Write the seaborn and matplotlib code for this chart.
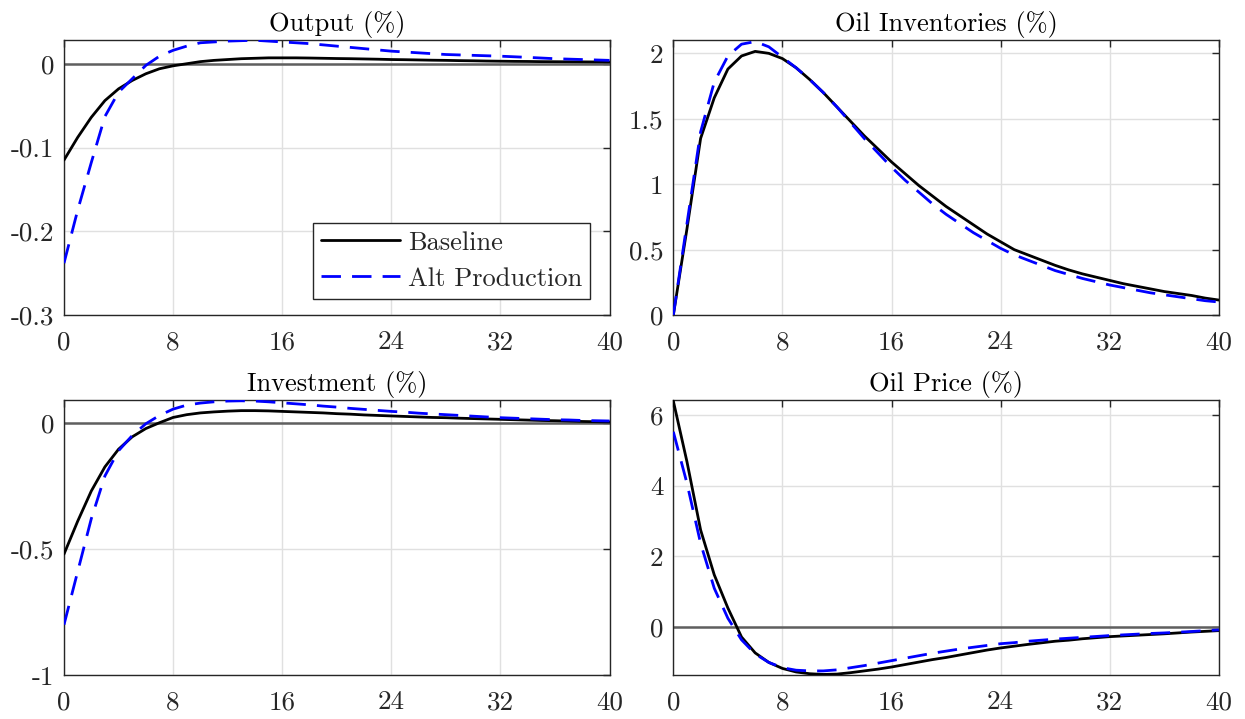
import numpy as np
import pandas as pd
import matplotlib
matplotlib.use("Agg")
import matplotlib.pyplot as plt
from matplotlib.ticker import FuncFormatter
import seaborn as sns

quarters = list(range(41))

output_base = [-0.115, -0.088, -0.064, -0.044, -0.030, -0.020, -0.012, -0.006, -0.0025, 0.0,
               0.0025, 0.004, 0.005, 0.006, 0.0065, 0.007, 0.007, 0.007, 0.0068, 0.0065,
               0.0062, 0.006, 0.0057, 0.0054, 0.005, 0.0048, 0.0045, 0.0042, 0.004, 0.0037,
               0.0035, 0.0032, 0.003, 0.0028, 0.0027, 0.0025, 0.0024, 0.0023, 0.0022, 0.0021, 0.002]
output_alt = [-0.238, -0.175, -0.118, -0.063, -0.034, -0.018, -0.002, 0.009, 0.016, 0.021,
              0.025, 0.026, 0.027, 0.0275, 0.028, 0.027, 0.026, 0.025, 0.024, 0.0225,
              0.021, 0.0195, 0.018, 0.0165, 0.015, 0.014, 0.013, 0.012, 0.011, 0.0105,
              0.010, 0.0095, 0.009, 0.0083, 0.0076, 0.0068, 0.006, 0.0055, 0.005, 0.0045, 0.004]

inv_oil_base = [0.0, 0.66, 1.35, 1.66, 1.88, 1.98, 2.015, 2.0, 1.96, 1.89,
                1.80, 1.70, 1.59, 1.48, 1.37, 1.27, 1.17, 1.08, 0.99, 0.91,
                0.83, 0.76, 0.69, 0.62, 0.56, 0.50, 0.46, 0.42, 0.38, 0.345,
                0.315, 0.29, 0.265, 0.24, 0.22, 0.20, 0.18, 0.165, 0.15, 0.13, 0.115]
inv_oil_alt = [0.0, 0.70, 1.40, 1.78, 1.98, 2.07, 2.09, 2.05, 1.97, 1.89,
               1.80, 1.70, 1.59, 1.47, 1.35, 1.24, 1.13, 1.03, 0.94, 0.85,
               0.77, 0.70, 0.63, 0.57, 0.51, 0.46, 0.42, 0.38, 0.34, 0.31,
               0.28, 0.255, 0.23, 0.21, 0.19, 0.17, 0.155, 0.14, 0.125, 0.11, 0.10]

invest_base = [-0.52, -0.39, -0.27, -0.174, -0.104, -0.055, -0.022, 0.001, 0.022, 0.033,
               0.040, 0.044, 0.047, 0.049, 0.049, 0.048, 0.046, 0.044, 0.042, 0.040,
               0.037, 0.035, 0.032, 0.030, 0.028, 0.026, 0.024, 0.022, 0.021, 0.019,
               0.0175, 0.016, 0.0145, 0.013, 0.0115, 0.010, 0.009, 0.0075, 0.006, 0.005, 0.004]
invest_alt = [-0.80, -0.59, -0.38, -0.21, -0.11, -0.05, -0.003, 0.03, 0.055, 0.071,
              0.079, 0.084, 0.087, 0.088, 0.087, 0.084, 0.080, 0.076, 0.072, 0.067,
              0.063, 0.058, 0.054, 0.050, 0.046, 0.043, 0.039, 0.036, 0.033, 0.030,
              0.027, 0.024, 0.021, 0.019, 0.017, 0.015, 0.013, 0.012, 0.010, 0.009, 0.008]

price_base = [6.4, 4.68, 2.75, 1.48, 0.54, -0.28, -0.73, -1.0, -1.17, -1.27,
              -1.32, -1.34, -1.33, -1.29, -1.24, -1.19, -1.13, -1.06, -0.99, -0.92,
              -0.86, -0.79, -0.72, -0.65, -0.59, -0.54, -0.49, -0.445, -0.40, -0.37,
              -0.33, -0.30, -0.27, -0.25, -0.23, -0.21, -0.19, -0.165, -0.14, -0.12, -0.10]
price_alt = [5.53, 4.07, 2.37, 1.10, 0.25, -0.36, -0.76, -1.0, -1.15, -1.22,
             -1.24, -1.24, -1.21, -1.15, -1.09, -1.02, -0.95, -0.88, -0.81, -0.74,
             -0.68, -0.62, -0.57, -0.52, -0.47, -0.44, -0.40, -0.37, -0.34, -0.315,
             -0.29, -0.265, -0.24, -0.22, -0.20, -0.18, -0.165, -0.145, -0.125, -0.10, -0.08]

titles = ["Output (%)", "Oil Inventories (%)", "Investment (%)", "Oil Price (%)"]
series_names = ["Baseline", "Alt Production"]
xticks = [0, 8, 16, 24, 32, 40]

panels = [
    (output_base, output_alt, (-0.3, 0.028), [-0.3, -0.2, -0.1, 0], True),
    (inv_oil_base, inv_oil_alt, (0, 2.1), [0, 0.5, 1, 1.5, 2], False),
    (invest_base, invest_alt, (-1, 0.09), [-1, -0.5, 0], True),
    (price_base, price_alt, (-1.36, 6.42), [0, 2, 4, 6], True),
]

sns.set_theme(style="whitegrid")
plt.rcParams["font.family"] = ["cmr10", "DejaVu Serif"]
plt.rcParams["axes.unicode_minus"] = False
plt.rcParams["mathtext.fontset"] = "cm"

fig, axes = plt.subplots(2, 2, figsize=(12.45, 7.19), dpi=100)
fig.subplots_adjust(left=0.0514, right=0.979, top=0.944, bottom=0.061, wspace=0.117, hspace=0.31)

axc = "#262626"
for ax, (base, alt, ylim, yticks, zero), title in zip(axes.flat, panels, titles):
    ax.set_facecolor("white")
    if zero:
        ax.axhline(0, color="#5f5f5f", lw=1.8, zorder=1)
    sns.lineplot(x=quarters, y=base, ax=ax, color="black", lw=2.0, label=series_names[0], zorder=3)
    sns.lineplot(x=quarters, y=alt, ax=ax, color="#0000ff", lw=2.0, linestyle="--",
                 label=series_names[1], zorder=4)
    ax.lines[-1].set_dashes([7, 4])
    ax.set_xlim(0, 40)
    ax.set_ylim(*ylim)
    ax.set_xticks(xticks)
    ax.set_yticks(yticks)
    ax.yaxis.set_major_formatter(FuncFormatter(lambda v, p: "%g" % v))
    ax.grid(True, color="#e0e0e0", lw=1.0)
    ax.set_axisbelow(True)
    for sp in ax.spines.values():
        sp.set_color(axc)
        sp.set_linewidth(1.0)
        sp.set_visible(True)
    ax.tick_params(axis="both", direction="in", length=5, width=1.0, color=axc,
                   labelcolor=axc, labelsize=19.5, top=True, right=True)
    ax.tick_params(axis="x", pad=11)
    ax.tick_params(axis="y", pad=7)
    ax.set_title(title, fontsize=19, color="black", pad=7)
    ax.set_xlabel("")
    ax.set_ylabel("")
    leg = ax.get_legend()
    if leg is not None:
        leg.remove()

leg = axes[0, 0].legend(loc="lower right", bbox_to_anchor=(0.989, 0.012), fontsize=19,
                        frameon=True, fancybox=False, framealpha=1, edgecolor=axc,
                        handlelength=3.0, borderpad=0.3, labelspacing=0.47, handletextpad=0.3)
leg.get_frame().set_linewidth(1.0)

fig.savefig("out.png", dpi=100)
